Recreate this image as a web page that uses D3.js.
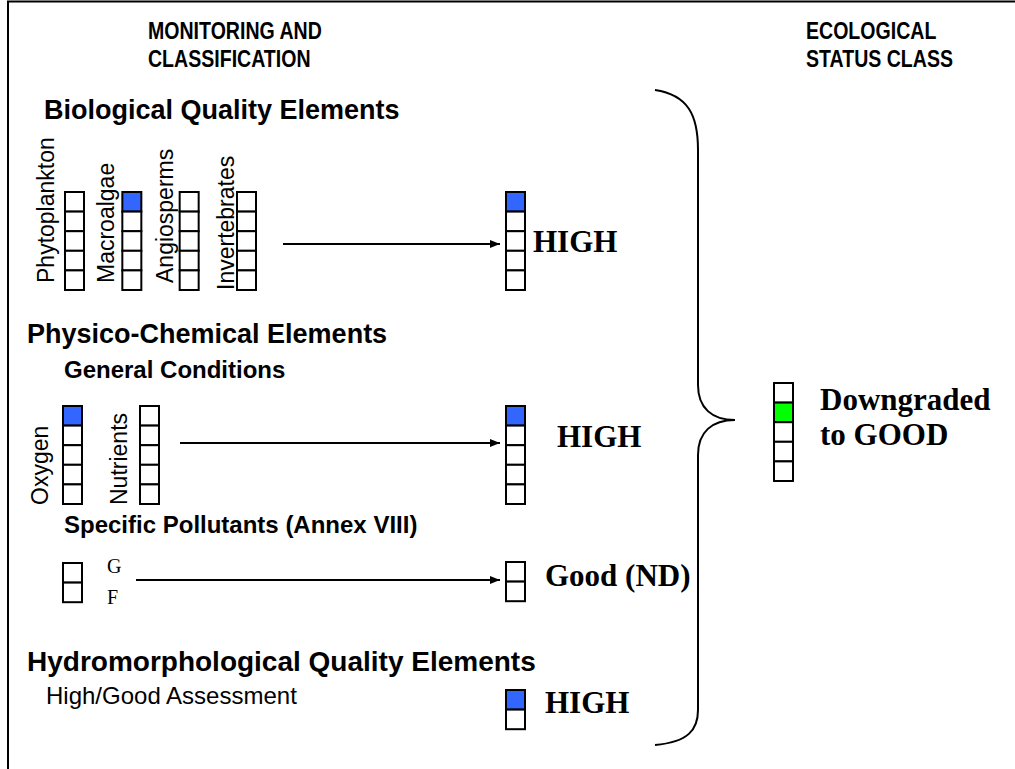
<!DOCTYPE html>
<html>
<head>
<meta charset="utf-8">
<script src="https://cdn.jsdelivr.net/npm/d3@7"></script>
<style>
    body { margin: 0; background: #fff; }
    svg { display: block; }
</style>
</head>
<body>
<script>
// Status classes (top = best)
const statusClasses = ["High", "Good", "Moderate", "Poor", "Bad"];
const pollutantClasses = ["G", "F"];
const hydroClasses = ["High", "Good"];

// Biological quality elements and their class
const bioElements = ["Phytoplankton", "Macroalgae", "Angiosperms", "Invertebrates"];
const bioStatus = [null, "High", null, null];

// General physico-chemical conditions
const generalElements = ["Oxygen", "Nutrients"];
const generalStatus = ["High", null];

// Results per group
const resultLabels = ["HIGH", "HIGH", "Good (ND)", "HIGH"];
const resultStatus = ["High", "High", null, "High"];

// Overall ecological status
const overallStatus = "Good";
const overallText = ["Downgraded", "to GOOD"];

const headers = [["MONITORING AND", "CLASSIFICATION"], ["ECOLOGICAL", "STATUS CLASS"]];

const width = 1015;
const height = 769;

const sans = "'Liberation Sans', Arial, sans-serif";
const serif = "'Liberation Serif', 'Times New Roman', serif";
const blue = "#3366ff";
const green = "#00ff00";

const cellW = 19;
const cellH = 19.6;

const svg = d3.select("body").append("svg")
    .attr("width", width)
    .attr("height", height);

// frame (top and left edges)
svg.append("path")
    .attr("d", `M8,${height} L8,1.5 L${width},1.5`)
    .attr("fill", "none")
    .attr("stroke", "#000")
    .attr("stroke-width", 2);

const defs = svg.append("defs");
defs.append("marker")
    .attr("id", "arrow")
    .attr("viewBox", "0 0 10 8")
    .attr("refX", 10)
    .attr("refY", 4)
    .attr("markerWidth", 10)
    .attr("markerHeight", 8)
    .attr("markerUnits", "userSpaceOnUse")
    .attr("orient", "auto")
    .append("path")
    .attr("d", "M0,0 L10,4 L0,8 Z")
    .attr("fill", "#000");

// draws a column of class cells, filled where the class equals status
function column(g, x, y0, classes, status, fill) {
    const y = d3.scaleBand()
        .domain(classes)
        .range([y0, y0 + cellH * classes.length]);
    g.append("g")
        .selectAll("rect")
        .data(classes)
        .join("rect")
        .attr("x", x)
        .attr("y", d => y(d))
        .attr("width", cellW)
        .attr("height", y.bandwidth())
        .attr("fill", d => d === status ? fill : "#fff")
        .attr("stroke", "#000")
        .attr("stroke-width", 2);
}

function arrow(x1, x2, y) {
    svg.append("line")
        .attr("x1", x1).attr("x2", x2)
        .attr("y1", y).attr("y2", y)
        .attr("stroke", "#000")
        .attr("stroke-width", 2)
        .attr("marker-end", "url(#arrow)");
}

function label(x, y, text, size, weight, family) {
    return svg.append("text")
        .attr("x", x)
        .attr("y", y)
        .style("font-family", family || sans)
        .style("font-size", size + "px")
        .style("font-weight", weight || "normal")
        .text(text);
}

function rotated(x, y, text) {
    svg.append("text")
        .attr("transform", `translate(${x},${y}) rotate(-90)`)
        .style("font-family", sans)
        .style("font-size", "23px")
        .text(text);
}

// headers (narrow bold face, squeezed horizontally)
const headerX = [148, 806];
headers.forEach((lines, i) => {
    lines.forEach((t, j) => {
        const h = label(headerX[i], 39 + j * 28, t, 23, "bold");
        const w = h.node().getComputedTextLength();
        h.attr("textLength", w * 0.85).attr("lengthAdjust", "spacingAndGlyphs");
    });
});

// Biological quality elements
label(44, 119, "Biological Quality Elements", 27, "bold");
const xBio = d3.scalePoint().domain(bioElements).range([65, 237]);
const bioLabelDx = [-11, -8, -7, -3];
const bioLabelY = [283, 283, 283, 290];
bioElements.forEach((e, i) => {
    column(svg, xBio(e), 192, statusClasses, bioStatus[i], blue);
    rotated(xBio(e) + bioLabelDx[i], bioLabelY[i], e);
});
arrow(283, 500, 244);
column(svg, 506, 192, statusClasses, resultStatus[0], blue);
label(533, 252, resultLabels[0], 31, "bold", serif);

// Physico-chemical elements
label(27, 343, "Physico-Chemical Elements", 27, "bold");
label(64, 378, "General Conditions", 24, "bold");
const xGen = d3.scalePoint().domain(generalElements).range([63, 140]);
const genLabelDx = [-15, -13];
generalElements.forEach((e, i) => {
    column(svg, xGen(e), 406, statusClasses, generalStatus[i], blue);
    rotated(xGen(e) + genLabelDx[i], 505, e);
});
arrow(180, 500, 443);
column(svg, 506, 406, statusClasses, resultStatus[1], blue);
label(557, 447, resultLabels[1], 31, "bold", serif);

// Specific pollutants
label(64, 533, "Specific Pollutants (Annex VIII)", 24, "bold");
column(svg, 63, 563, pollutantClasses, null, blue);
pollutantClasses.forEach((c, i) => label(107, 573 + i * 31, c, 20, "normal", serif));
arrow(136, 500, 580);
column(svg, 506, 562, pollutantClasses, resultStatus[2], blue);
label(545, 586, resultLabels[2], 31, "bold", serif);

// Hydromorphological quality elements
label(27, 671, "Hydromorphological Quality Elements", 28, "bold");
label(46, 704, "High/Good Assessment", 24, "normal");
column(svg, 506, 690, hydroClasses, resultStatus[3], blue);
label(545, 713, resultLabels[3], 31, "bold", serif);

// brace
svg.append("path")
    .attr("d", "M655,90 C688,95 698,115 698,150 L698,385 C698,408 712,420 735,420 " +
        "C712,420 698,432 698,455 L698,710 C698,730 688,742 655,745")
    .attr("fill", "none")
    .attr("stroke", "#000")
    .attr("stroke-width", 2);

// overall status
column(svg, 774, 383, statusClasses, overallStatus, green);
overallText.forEach((t, i) => label(820, 410 + i * 35, t, 31, "bold", serif));
</script>
</body>
</html>
